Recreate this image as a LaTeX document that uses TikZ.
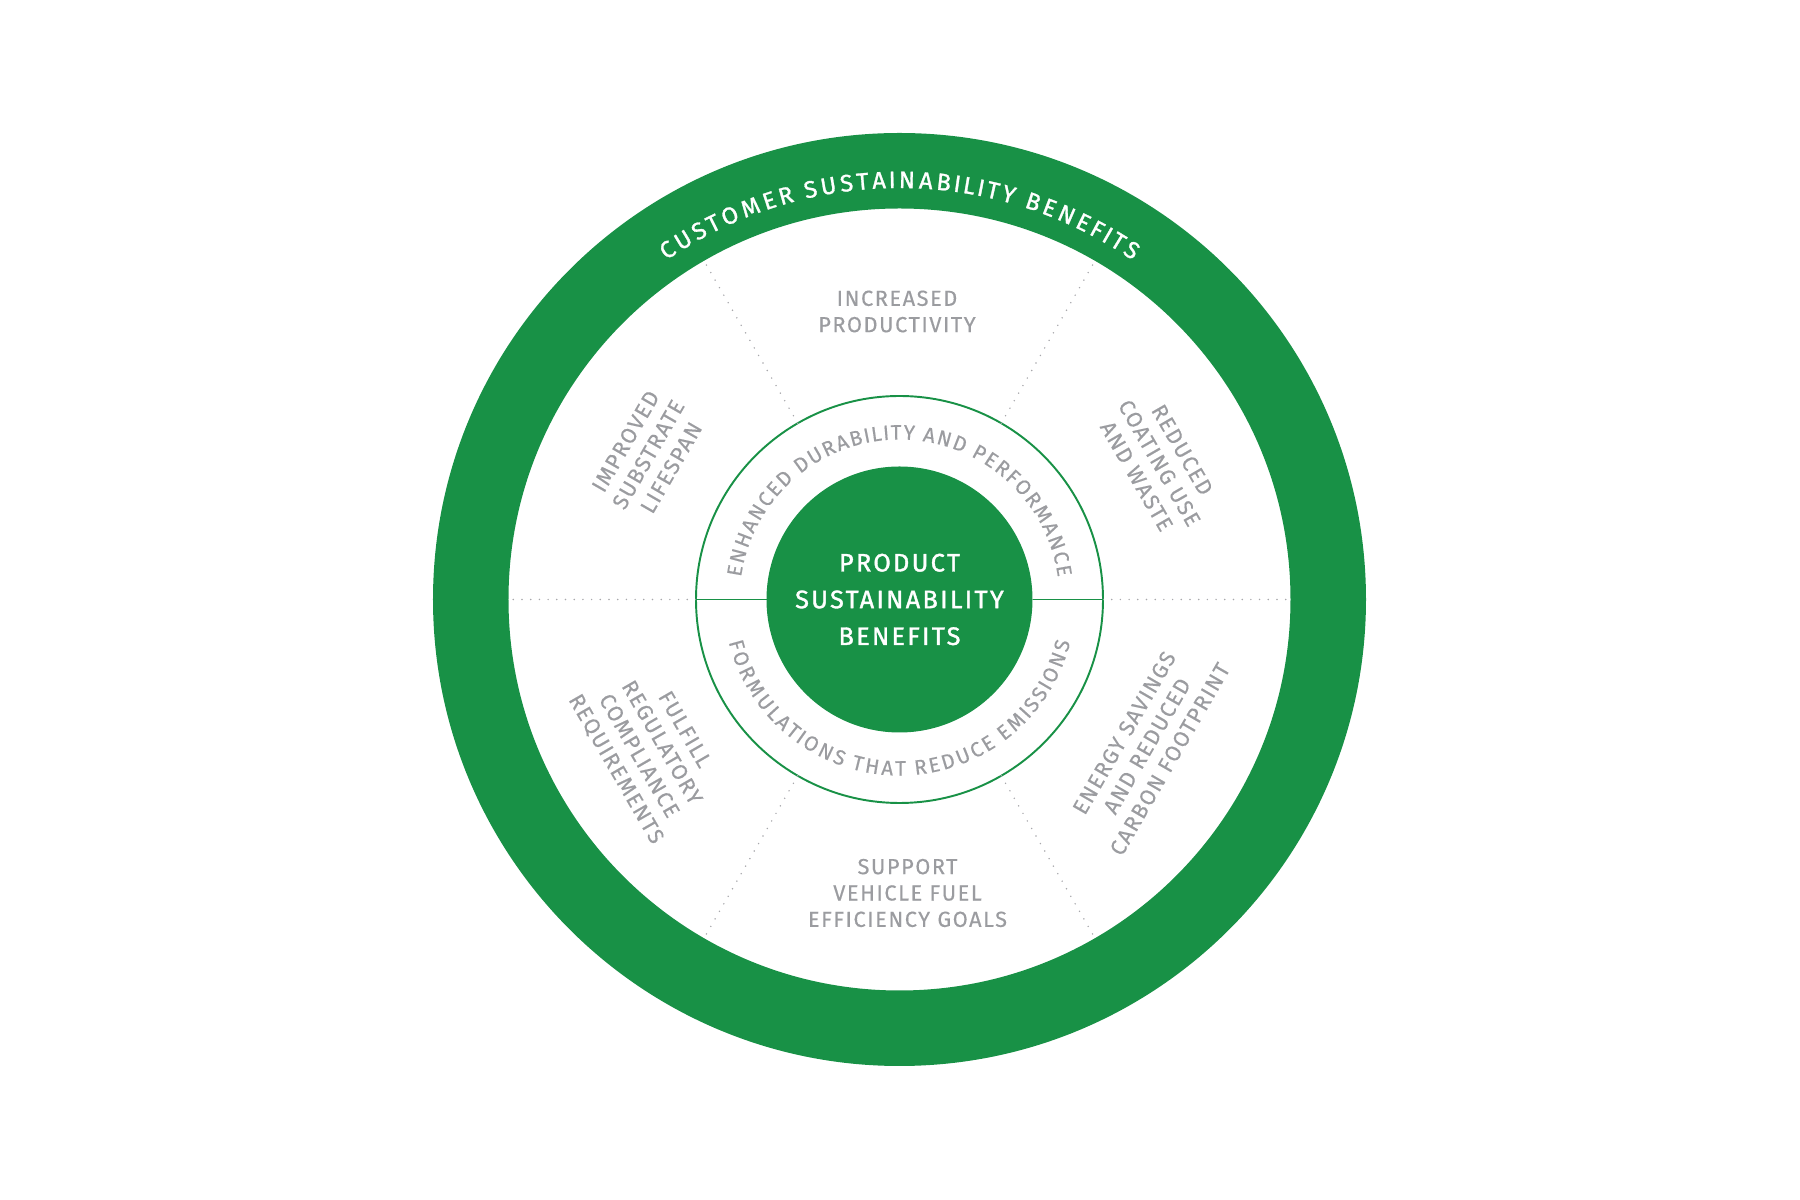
\documentclass[tikz,border=0pt]{standalone}
\usepackage{fontspec}
\setmainfont{Fira Sans}
\newfontfamily\trackedfont[LetterSpace=7, FakeBold=0.4]{Fira Sans}
\newfontfamily\corefont[LetterSpace=9, FakeBold=1.4]{Fira Sans}
\newfontfamily\ringfont[FakeBold=1.2]{Fira Sans}
\newfontfamily\arcfont[FakeBold=0.4]{Fira Sans}
\usepackage{tikz}
\usetikzlibrary{positioning,calc,decorations.text}
\definecolor{brandgreen}{RGB}{24,145,70}
\definecolor{labelgray}{RGB}{155,156,160}
\definecolor{dotgray}{RGB}{168,168,172}
\tikzset{
  ring/.style={draw=brandgreen, line width=1.51cm},
  rim/.style={circle, minimum size=15.64cm, inner sep=0, outer sep=0},
  band/.style={circle, draw=brandgreen, line width=1.1pt, minimum size=8.14cm, inner sep=0, outer sep=0},
  core/.style={circle, fill=brandgreen, minimum size=5.32cm, inner sep=0, outer sep=0, text=white,
    align=center, font=\corefont\fontsize{14.4}{20.9}\selectfont},
  sector/.style={text=labelgray, align=center, inner sep=0,
    font=\trackedfont\fontsize{12.4}{15}\selectfont},
  spoke/.style={draw=dotgray, line width=0.95pt, line cap=round, dash pattern=on 0pt off 4.95pt},
  split/.style={draw=brandgreen, line width=1.1pt},
}
\newcommand{\drawsector}{\node[sector]}
\newcommand{\arclabel}[5]{% radius, from, to, character options, text
  \path[decorate, decoration={text effects along path, text={#5},
    text effects/.cd, text along path, fit text to path, characters={#4}}]
    (#2:#1) arc[start angle=#2, end angle=#3, radius=#1];}

\begin{document}
\begin{tikzpicture}
	\useasboundingbox (-17.99,-12.01) rectangle (18.01,11.99);
	
	\node[rim] (rim) at (0,0) {};
	\node[band] (band) at (0,0) {};
	\node[core] (core) at (0,0) {PRODUCT\\SUSTAINABILITY\\BENEFITS};
	
	% dotted spokes between the rings
	\foreach \a in {0,60,...,300}
		\draw[spoke] (band.\a) -- (rim.\a);
	\draw[ring] (rim.center) circle (8.575);
	
	\draw[split] (band.west) -- (core.west);
	\draw[split] (core.east) -- (band.east);
	
	\drawsector (productivity) at (-0.05,5.76) {INCREASED\\PRODUCTIVITY};
	\drawsector[rotate=-60] (coating) at (5.2,2.73) {REDUCED\\COATING USE\\AND WASTE};
	\drawsector[rotate=60] (energy) at (4.95,-2.93) {ENERGY SAVINGS\\AND REDUCED\\CARBON FOOTPRINT};
	\drawsector (fuel) at (0.16,-5.87) {SUPPORT\\VEHICLE FUEL\\EFFICIENCY GOALS};
	\drawsector[rotate=-60] (compliance) at (-4.99,-3.0) {FULFILL\\REGULATORY\\COMPLIANCE\\REQUIREMENTS};
	\drawsector[rotate=60] (lifespan) at (150:5.8) {IMPROVED\\SUBSTRATE\\LIFESPAN};
	
	\arclabel{8.23}{124.5}{55.5}{text=white, font=\ringfont\fontsize{13.5}{15}\selectfont}{CUSTOMER SUSTAINABILITY BENEFITS}
	\arclabel{3.2}{172}{8}{text=labelgray, font=\arcfont\fontsize{11.8}{14}\selectfont}{ENHANCED DURABILITY AND PERFORMANCE}
	\arclabel{3.52}{194}{346}{text=labelgray, font=\arcfont\fontsize{11.8}{14}\selectfont}{FORMULATIONS THAT REDUCE EMISSIONS}
	
\end{tikzpicture}
\end{document}
